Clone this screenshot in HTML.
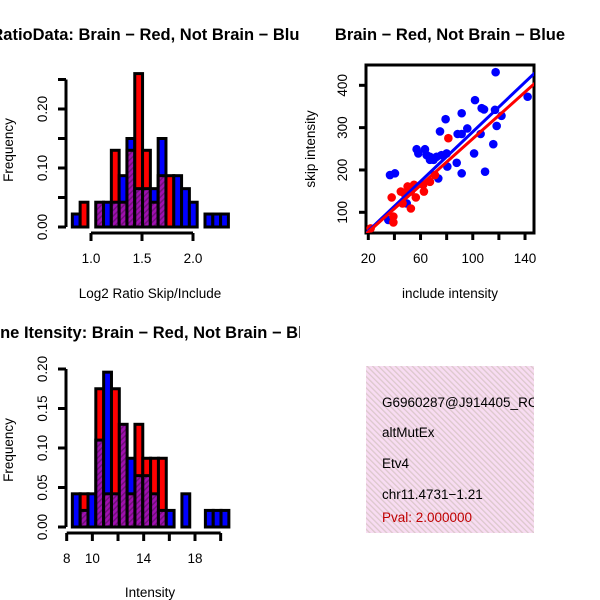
<!DOCTYPE html>
<html><head><meta charset="utf-8"><style>
html,body{margin:0;padding:0;background:#fff}
svg{display:block;font-family:"Liberation Sans",sans-serif}
</style></head><body>
<svg id="c" width="600" height="600" viewBox="0 0 600 600">
<defs>
<pattern id="purp" width="4" height="4" patternUnits="userSpaceOnUse" patternTransform="rotate(45)">
<rect width="4" height="4" fill="#a010b0"/><rect width="1.5" height="4" fill="#70107a"/></pattern>
<pattern id="pink" width="4" height="4" patternUnits="userSpaceOnUse" patternTransform="rotate(-45)">
<rect width="4" height="4" fill="#f8dcf2"/><rect width="1.3" height="4" fill="#dcc8cc"/></pattern>
<clipPath id="clipL"><rect x="0" y="0" width="300" height="600"/></clipPath>
<clipPath id="clipS"><rect x="366" y="65" width="168" height="168"/></clipPath>
<clipPath id="clipT"><rect x="366" y="366" width="168" height="167"/></clipPath>
</defs>
<g id="g1"></g>
<g id="g2"></g>
<g id="g3"></g>
<g>
<rect x="366" y="366" width="168" height="167" fill="url(#pink)"/>
<g clip-path="url(#clipT)" font-size="13.5">
<text x="382" y="407">G6960287@J914405_RC</text>
<text x="382" y="437">altMutEx</text>
<text x="382" y="468">Etv4</text>
<text x="382" y="499">chr11.4731−1.21</text>
<text x="382" y="522" fill="#c00000">Pval: 2.000000</text>
</g></g>
</svg>
<script>
// Ratio histogram data
const ratioBinStart = 0.817, ratioBinWidth = 0.0765;
const ratioRed  = [0,0.042,0,0.042,0,0.13,0.042,0.13,0.26,0.13,0.042,0.087,0.087,0,0,0,0,0,0,0];
const ratioBlue = [0.022,0,0,0.042,0.042,0.042,0.087,0.15,0.065,0.065,0.065,0.15,0,0.087,0.065,0.042,0,0.022,0.022,0.022];
const ratioXTicks = [1.0,1.5,2.0];
const ratioXLabels = ["1.0","1.5","2.0"];
const ratioYTicks = [0,0.05,0.10,0.15,0.20,0.25];
const ratioYLabels = ["0.00","","0.10","","0.20",""];
// Intensity histogram data
const intBinStart = 8.44, intBinWidth = 0.61;
const intRed  = [0,0.042,0,0.175,0.042,0.175,0.13,0.042,0.13,0.087,0.087,0.087,0,0,0,0,0,0,0,0];
const intBlue = [0.042,0.021,0.042,0.11,0.196,0.042,0.13,0.087,0.065,0.065,0.042,0.021,0.021,0,0.042,0,0,0.021,0.021,0.021];
const intXTicks = [8,10,12,14,16,18,20];
const intXLabels = ["8","10","","14","","18",""];
const intYTicks = [0,0.05,0.10,0.15,0.20];
const intYLabels = ["0.00","0.05","0.10","0.15","0.20"];
// Scatter data
const blueX = [117.5,101.7,106.8,108.6,91.5,79.2,117,122,142,118.3,95.8,88.4,91.5,106,74.9,115.7,101,109.4,91.5,36.6,40.4,57,58.3,63.4,64.7,67.2,72.3,76,80,80.5,87.7,73.6,49.4,35.3,67.2,70];
const blueY = [431,365,346,343,334,320,342,328,373,304,298,285,285,285,291,261,239,196,192,188,192,249,239,249,235,231,231,235,239,208,217,180,121,82,224,224];
const redX = [81.3,21.8,37.9,39.2,39.2,44.9,52.6,56.4,52.6,46.2,50.1,55,62.6,62,67.2,71,47.4];
const redY = [275,62,135,90,76,149,149,135,109,121,161,165,149,165,172,188,145];
// regression coefficients [intercept, slope]
const blueFit = [-2.8, 2.93];
const redFit = [-1.5, 2.754];
const scXTicks = [20,40,60,80,100,120,140];
const scXLabels = ["20","","60","","100","","140"];
const scYTicks = [100,200,300,400];
const NS="http://www.w3.org/2000/svg";
const FS=13.5, TFS=16.5;
function mk(tag, attrs, parent){const e=document.createElementNS(NS,tag);for(const k in attrs)e.setAttribute(k,attrs[k]);parent.appendChild(e);return e;}

function hist(g, opt){
  const xs=v=>opt.x0px+(v-opt.x0)*opt.pxPerX;
  const ys=v=>opt.y0px-v*opt.pxPerY;
  for(let i=0;i<opt.red.length;i++){
    const r=opt.red[i], b=opt.blue[i];
    const a=opt.binStart+i*opt.binWidth;
    const hi=Math.max(r,b), lo=Math.min(r,b);
    if(hi<=0) continue;
    const x1=xs(a), w=opt.binWidth*opt.pxPerX;
    const col = r>b ? "#ff0000" : (b>r ? "#0000ff" : "url(#purp)");
    const el=mk("rect",{x:x1,y:ys(hi),width:w,height:ys(0)-ys(hi),fill:col,stroke:"#000","stroke-width":3},g);
    
    
    if(lo>0 && lo<hi){
      const e2=mk("rect",{x:x1,y:ys(lo),width:w,height:ys(0)-ys(lo),fill:"url(#purp)",stroke:"#000","stroke-width":3},g);
      
      
    }
  }
  const yt=opt.yTicks;
  const ya=mk("line",{x1:66,x2:66,y1:ys(yt[0]),y2:ys(yt[yt.length-1]),stroke:"#000","stroke-width":3},g);
  
  
  yt.forEach((v,i)=>{
    mk("line",{x1:58,x2:66,y1:ys(v),y2:ys(v),stroke:"#000","stroke-width":3},g);
    if(opt.yLabels[i]){const t=mk("text",{x:0,y:0,transform:`translate(47,${ys(v)}) rotate(-90)`,"text-anchor":"middle","font-size":FS},g);t.textContent=opt.yLabels[i];
      
      }
  });
  const xt=opt.xTicks, ay=opt.y0px+6;
  const xa=mk("line",{x1:xs(xt[0]),x2:xs(xt[xt.length-1]),y1:ay,y2:ay,stroke:"#000","stroke-width":3},g);
  
  
  xt.forEach((v,i)=>{
    mk("line",{x1:xs(v),x2:xs(v),y1:ay,y2:ay+8,stroke:"#000","stroke-width":3},g);
    if(opt.xLabels[i]){const t=mk("text",{x:xs(v),y:ay+30,"text-anchor":"middle","font-size":FS},g);t.textContent=opt.xLabels[i];
      
      }
  });
  const yl=mk("text",{x:0,y:0,transform:`translate(13,${opt.midY}) rotate(-90)`,"text-anchor":"middle","font-size":FS},g);yl.textContent="Frequency";
  
  
  const xl=mk("text",{x:150,y:opt.xlabY,"text-anchor":"middle","font-size":FS},g);xl.textContent=opt.xlab;
  
  
  const tt=mk("text",{x:150,y:opt.titleY,"text-anchor":"middle","font-size":TFS,"font-weight":"bold","clip-path":"url(#clipL)"},g);tt.textContent=opt.title;
  
  
}
hist(document.getElementById("g1"),{red:ratioRed,blue:ratioBlue,binStart:ratioBinStart,binWidth:ratioBinWidth,x0:1.0,x0px:91,pxPerX:102,y0px:227,pxPerY:590,
  xTicks:ratioXTicks,xLabels:ratioXLabels,yTicks:ratioYTicks,yLabels:ratioYLabels,midY:150,xlab:"Log2 Ratio Skip/Include",xlabY:298,
  title:"RatioData: Brain − Red, Not Brain − Blue",titleY:40});
hist(document.getElementById("g2"),{red:intRed,blue:intBlue,binStart:intBinStart,binWidth:intBinWidth,x0:8,x0px:66.7,pxPerX:12.83,y0px:527,pxPerY:790,
  xTicks:intXTicks,xLabels:intXLabels,yTicks:intYTicks,yLabels:intYLabels,midY:450,xlab:"Intensity",xlabY:597,
  title:"Gene Itensity: Brain − Red, Not Brain − Blue",titleY:338});

(function(){
  const g=document.getElementById("g3");
  const xs=v=>368.3+(v-20)*1.306, ys=v=>212.3-(v-100)*0.4233;
  const box=mk("rect",{x:366,y:65,width:168,height:168,fill:"none",stroke:"#000","stroke-width":3},g);
  
  
  const pg=mk("g",{"clip-path":"url(#clipS)"},g);
  blueX.forEach((v,i)=>{const c=mk("circle",{cx:xs(v),cy:ys(blueY[i]),r:4.3,fill:"#0000ff"},pg);
    
    });
  redX.forEach((v,i)=>{const c=mk("circle",{cx:xs(v),cy:ys(redY[i]),r:4.3,fill:"#ff0000"},pg);
    
    });
  [[blueFit,"#0000ff","blue-fit-line"],[redFit,"#ff0000","red-fit-line"]].forEach(s=>{
    const [a,b]=s[0];
    const l=mk("line",{x1:xs(15),y1:ys(a+b*15),x2:xs(150),y2:ys(a+b*150),stroke:s[1],"stroke-width":3},pg);
    
    
  });
  scXTicks.forEach((v,i)=>{
    mk("line",{x1:xs(v),x2:xs(v),y1:233,y2:240,stroke:"#000","stroke-width":3},g);
    if(scXLabels[i]){const t=mk("text",{x:xs(v),y:263,"text-anchor":"middle","font-size":FS},g);t.textContent=scXLabels[i];
      
      }
  });
  scYTicks.forEach(v=>{
    mk("line",{x1:359,x2:366,y1:ys(v),y2:ys(v),stroke:"#000","stroke-width":3},g);
    const t=mk("text",{x:0,y:0,transform:`translate(347,${ys(v)}) rotate(-90)`,"text-anchor":"middle","font-size":FS},g);t.textContent=String(v);
    
    
  });
  const xl=mk("text",{x:450,y:298,"text-anchor":"middle","font-size":FS},g);xl.textContent="include intensity";
  
  
  const yl=mk("text",{x:0,y:0,transform:"translate(315,149) rotate(-90)","text-anchor":"middle","font-size":FS},g);yl.textContent="skip intensity";
  
  
  const tt=mk("text",{x:450,y:40,"text-anchor":"middle","font-size":TFS,"font-weight":"bold"},g);tt.textContent="Brain − Red, Not Brain − Blue";
  
  
})();
</script>
</body></html>
